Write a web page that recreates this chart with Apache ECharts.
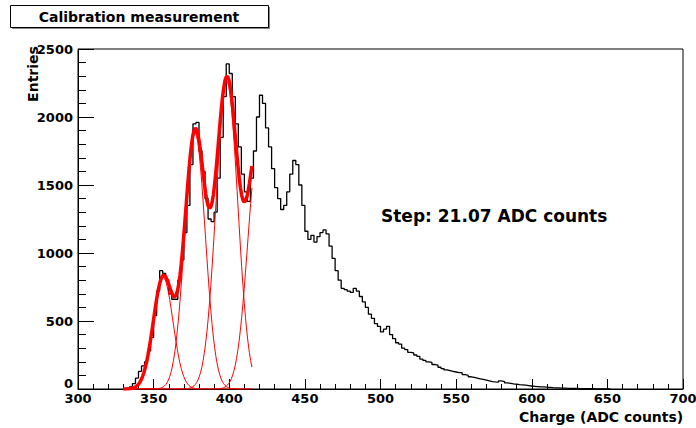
<!DOCTYPE html>
<html>
<head>
<meta charset="utf-8">
<script src="https://cdn.jsdelivr.net/npm/echarts@6/dist/echarts.min.js"></script>
<style>
  html, body { margin: 0; padding: 0; background: #fff; }
  #chart { width: 696px; height: 428px; }
</style>
</head>
<body>
<div id="chart"></div>
<script>
// histogram: left edge of each 2-unit bin and its entries
var binStart = 330;
var binWidth = 2;
var entries = [
  0, 5, 15, 40, 80, 130, 170, 200, 280, 380,
  540, 720, 870, 850, 800, 700, 660, 660, 800, 950,
  1150, 1350, 1650, 1950, 1960, 1750, 1600, 1400, 1250, 1230,
  1300, 1550, 1850, 2150, 2390, 2320, 2150, 1950, 1780, 1580,
  1450, 1380, 1550, 1750, 2000, 2160, 2100, 1920, 1780, 1620,
  1480, 1400, 1320, 1350, 1450, 1580, 1680, 1650, 1500, 1350,
  1160, 1100, 1130, 1080, 1120, 1150, 1170, 1140, 1050, 960,
  870, 800, 740, 730, 720, 710, 740, 720, 680, 640,
  600, 550, 520, 480, 460, 420, 440, 460, 400, 370,
  340, 330, 300, 290, 270, 265, 250, 240, 220, 210,
  200, 195, 180, 175, 160, 150, 140, 135, 130, 125,
  120, 120, 105, 100, 90, 85, 80, 75, 70, 65,
  60, 55, 52, 50, 60, 55, 45, 42, 38, 35,
  32, 30, 28, 25, 22, 20, 18, 16, 15, 14,
  12, 10, 9, 8, 7, 6, 5, 5, 4, 4,
  3, 3, 2, 2, 2, 1, 1, 1, 1, 0,
  0
];

// fitted gaussian peaks, fit range 330..415
var peakAmp = [820, 1880, 2260, 1800];
var peakMean = [356.3, 377.37, 398.44, 419.51];
var peakSigma = [6.5, 6.8, 7.2, 7.2];
var fitRange = [330, 415];

var xTicks = { min: 300, max: 700, step: 50 };
var yTicks = { min: 0, max: 2500, step: 500 };

var histData = entries.map(function (v, i) { return [binStart + i * binWidth, v]; });
histData.push([binStart + entries.length * binWidth, entries[entries.length - 1]]);

var npx = 100;
var compData = peakAmp.map(function () { return []; });
var sumData = [];
for (var k = 0; k <= npx; k++) {
  var x = fitRange[0] + (fitRange[1] - fitRange[0]) * k / npx;
  var s = 0;
  for (var g = 0; g < peakAmp.length; g++) {
    var d = (x - peakMean[g]) / peakSigma[g];
    var y = peakAmp[g] * Math.exp(-0.5 * d * d);
    compData[g].push([x, y]);
    s += y;
  }
  sumData.push([x, s]);
}

var font = '"DejaVu Sans", Arial, sans-serif';

var series = [{
  type: 'line',
  data: histData,
  step: 'end',
  symbol: 'none',
  lineStyle: { color: '#000', width: 1.3 },
  z: 2
}];
compData.forEach(function (c) {
  series.push({
    type: 'line',
    data: c,
    symbol: 'none',
    lineStyle: { color: '#ff0000', width: 1 },
    z: 3
  });
});
series.push({
  type: 'line',
  data: sumData,
  symbol: 'none',
  lineStyle: { color: '#ff0000', width: 3.5 },
  z: 4
});

var myChart = echarts.init(document.getElementById('chart'), null, { renderer: 'svg' });
myChart.setOption({
  animation: false,
  backgroundColor: '#fff',
  grid: {
    left: 78,
    right: 13,
    top: 49,
    bottom: 39,
    outerBoundsMode: 'none',
    containLabel: false,
    show: true,
    borderColor: '#000',
    borderWidth: 1
  },
  xAxis: {
    type: 'value',
    min: xTicks.min,
    max: xTicks.max,
    interval: xTicks.step,
    axisLine: { lineStyle: { color: '#000', width: 1 } },
    axisTick: { inside: true, length: 10, lineStyle: { color: '#000' } },
    minorTick: { show: true, splitNumber: 5, length: 5, lineStyle: { color: '#000' } },
    axisLabel: { fontFamily: 'DejaVu Sans', fontWeight: 'bold', fontSize: 13, color: '#000', margin: 3 },
    splitLine: { show: false }
  },
  yAxis: {
    type: 'value',
    min: yTicks.min,
    max: yTicks.max,
    interval: yTicks.step,
    axisLine: { lineStyle: { color: '#000', width: 1 } },
    axisTick: { inside: true, length: 16, lineStyle: { color: '#000' } },
    minorTick: { show: true, splitNumber: 5, length: 8, lineStyle: { color: '#000' } },
    axisLabel: {
      fontFamily: 'DejaVu Sans', fontWeight: 'bold', fontSize: 13, color: '#000', margin: 5,
      formatter: function (v) { return v === 0 ? '{z|0}' : String(v); },
      rich: {
        z: { fontFamily: 'DejaVu Sans', fontWeight: 'bold', fontSize: 13, color: '#000', padding: [0, 0, 12, 0] }
      }
    },
    splitLine: { show: false }
  },
  graphic: [
    {
      type: 'rect',
      shape: { x: 12, y: 7, width: 258, height: 22 },
      style: { fill: '#888', stroke: null }
    },
    {
      type: 'rect',
      shape: { x: 10.5, y: 5.5, width: 258, height: 22 },
      style: { fill: '#fff', stroke: '#000', lineWidth: 1 }
    },
    {
      type: 'text',
      x: 139, y: 17,
      style: {
        text: 'Calibration measurement', fill: '#000',
        font: 'bold 14px ' + font, textAlign: 'center', textVerticalAlign: 'middle'
      }
    },
    {
      type: 'text',
      x: 33, y: 74,
      rotation: Math.PI / 2,
      style: {
        text: 'Entries', fill: '#000',
        font: 'bold 14px ' + font, textAlign: 'center', textVerticalAlign: 'middle'
      }
    },
    {
      type: 'text',
      x: 519, y: 417,
      style: {
        text: 'Charge (ADC counts)', fill: '#000',
        font: 'bold 14px ' + font, textAlign: 'left', textVerticalAlign: 'middle'
      }
    },
    {
      type: 'text',
      x: 381, y: 216,
      style: {
        text: 'Step: 21.07 ADC counts', fill: '#000',
        font: 'bold 17px ' + font, textAlign: 'left', textVerticalAlign: 'middle'
      }
    }
  ],
  series: series
});
</script>
</body>
</html>
